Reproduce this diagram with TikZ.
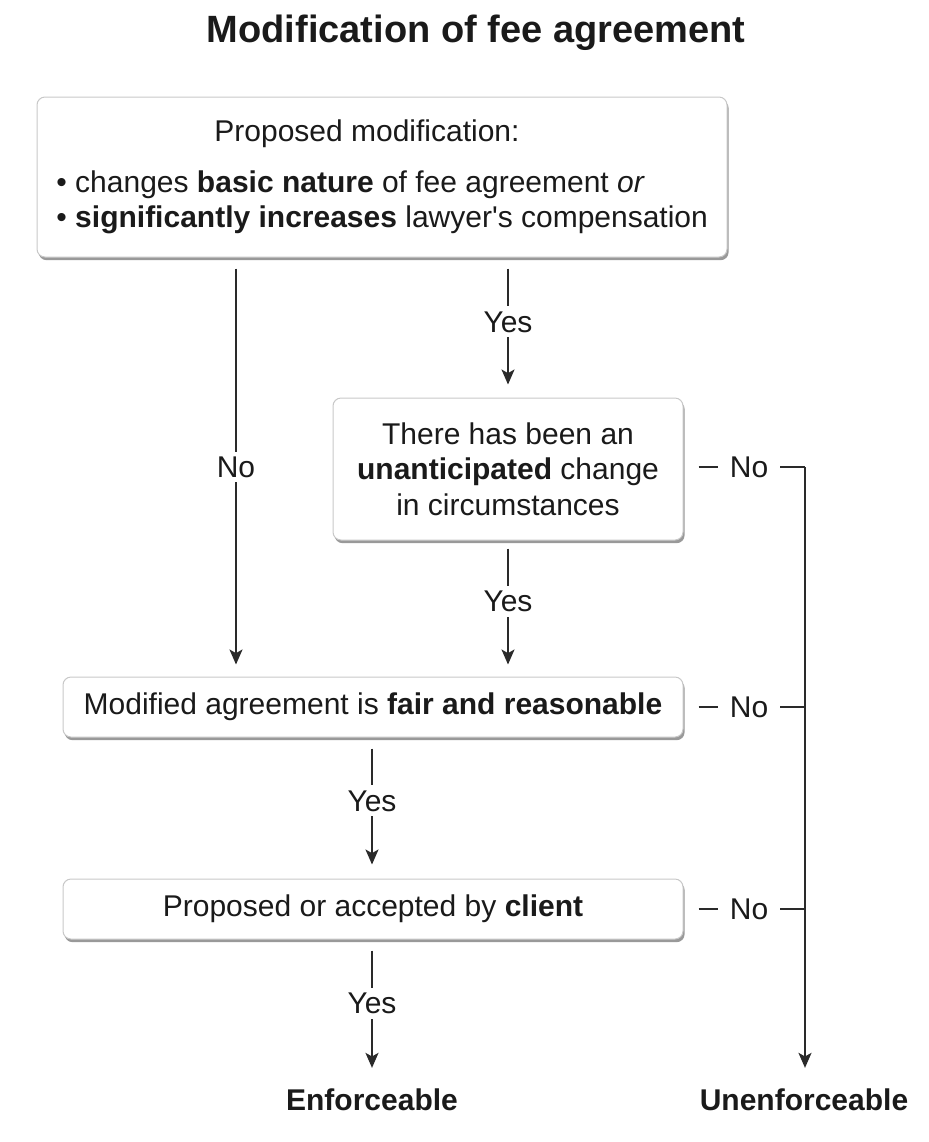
\documentclass[tikz,border=0pt]{standalone}
\usepackage{fontspec}
\setmainfont{Liberation Sans}
\usetikzlibrary{arrows.meta,shadows}
\definecolor{ink}{HTML}{1A1A1A}
\definecolor{edge}{HTML}{C8C8C8}
\definecolor{wire}{HTML}{2A2A2A}
\tikzset{
  x=0.5pt, y=-0.5pt,
  every node/.style={text=ink, font=\fontsize{15}{17.75}\selectfont},
  box/.style={draw=edge, line width=0.5pt, fill=white, rounded corners=4pt,
    drop shadow={shadow xshift=0.8pt, shadow yshift=-1.6pt, fill=black, opacity=0.4},
    inner sep=0pt, align=center},
  wirestyle/.style={draw=wire, line width=0.9pt},
  arr/.style={wirestyle, -{Stealth[length=7.5pt,width=6.5pt,inset=1.8pt]}},
  lbl/.style={fill=white, inner sep=2.5pt},
  sidelbl/.style={fill=white, inner xsep=6pt, inner ysep=2pt},
}
\begin{document}
\begin{tikzpicture}
\useasboundingbox (0,0) rectangle (928,1142);

% title
\node[font=\fontsize{19}{22}\selectfont\bfseries] (title) at (476,33) {Modification of fee agreement};

% boxes
\node[box, minimum width=345pt, minimum height=80pt] (b1) at (382,177) {};
\node[anchor=base, inner sep=0pt] (b1head) at (367,141) {Proposed modification:};
\node[anchor=base west, inner sep=0pt] (b1l1) at (56,192) {• changes \textbf{basic nature} of fee agreement \textit{or}};
\node[anchor=base west, inner sep=0pt] (b1l2) at (56,227) {• \textbf{significantly increases} lawyer\textquotesingle s compensation};

\node[box, minimum width=175pt, minimum height=71pt] (b2) at (508,469)
  {There has been an\\\textbf{unanticipated} change\\in circumstances};

\node[box, minimum width=310pt, minimum height=30pt] (b3) at (373,707)
  {\raisebox{-1.5pt}{Modified agreement is \textbf{fair and reasonable}}};

\node[box, minimum width=310pt, minimum height=30pt] (b4) at (373,909)
  {\raisebox{-1.5pt}{Proposed or accepted by \textbf{client}}};

% outcomes
\node[font=\fontsize{15}{17.75}\selectfont\bfseries, anchor=base, inner sep=0pt] (enf) at (372,1110) {Enforceable};
\node[font=\fontsize{15}{17.75}\selectfont\bfseries, anchor=base, inner sep=0pt] (unenf) at (804,1110) {Unenforceable};

% rail coordinates
\coordinate (r2) at (805,467);
\coordinate (r3) at (805,707);
\coordinate (r4) at (805,909);

% Yes / No arrows
\draw[arr, shorten <=5.5pt, shorten >=6pt] (b1.south -| 236,0) -- node[lbl] {No} (b3.north -| 236,0);
\draw[arr, shorten <=5.5pt, shorten >=6.5pt] (b1.south -| b2.north) -- node[lbl, pos=0.46] {Yes} (b2.north);
\draw[arr, shorten <=4pt, shorten >=6pt] (b2.south) -- node[lbl, pos=0.45] {Yes} (b3.north -| b2.south);
\draw[arr, shorten <=5.5pt, shorten >=7pt] (b3.south -| 372,0) -- node[lbl, pos=0.45] {Yes} (b4.north -| 372,0);
\draw[arr, shorten <=5.5pt, shorten >=10pt] (b4.south -| enf.north) -- node[lbl, pos=0.43] {Yes} (enf.north);

% No side connectors
\draw[wirestyle, shorten <=7.5pt] (b2.east |- r2) -- node[sidelbl, pos=0.54] {No} (r2);
\draw[wirestyle, shorten <=7.5pt] (b3.east) -- node[sidelbl, pos=0.54] {No} (r3);
\draw[wirestyle, shorten <=7.5pt] (b4.east) -- node[sidelbl, pos=0.54] {No} (r4);
\draw[arr, shorten >=10pt] (r2) -- (unenf.north -| r2);
\end{tikzpicture}
\end{document}
